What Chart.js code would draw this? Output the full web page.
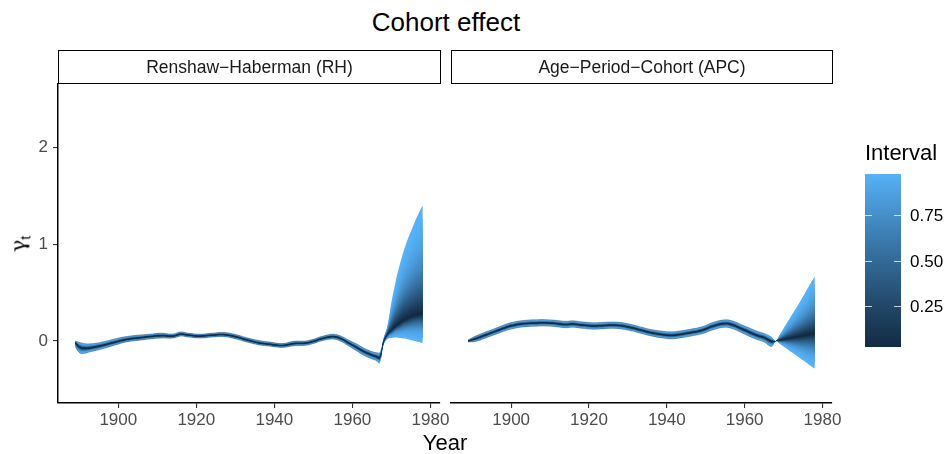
<!DOCTYPE html>
<html><head><meta charset="utf-8">
<script src="https://cdn.jsdelivr.net/npm/chart.js@4.4.1/dist/chart.umd.min.js"></script>
<style>
html,body{margin:0;padding:0;background:#fff;}
#wrap{position:relative;width:950px;height:454px;overflow:hidden;font-family:"Liberation Sans",Arial,sans-serif;background:#fff;}
canvas{position:absolute;top:0;}
.t{position:absolute;transform:translate(-50%,-50%);white-space:nowrap;color:#000;line-height:1;}
.strip{position:absolute;top:50px;height:34px;box-sizing:border-box;border:1.7px solid #000;display:flex;align-items:center;justify-content:center;font-size:17.5px;color:#1a1a1a;}
.lab{position:absolute;transform:translate(0,-50%);font-size:17px;line-height:1;color:#000;}
</style></head><body>
<div id="wrap">
  <div class="t" style="left:446px;top:22px;font-size:26px;">Cohort effect</div>
  <canvas id="c1" width="460" height="454" style="left:0"></canvas>
  <canvas id="c2" width="510" height="454" style="left:440px"></canvas>
  <div class="strip" style="left:58px;width:383px;">Renshaw−Haberman (RH)</div>
  <div class="strip" style="left:451px;width:382px;">Age−Period−Cohort (APC)</div>
  <div class="t" style="left:445px;top:443px;font-size:22px;">Year</div>
  <div class="t" style="left:20px;top:244px;font-size:21px;transform:translate(-50%,-50%) rotate(-90deg);"><span style="font-family:'DejaVu Serif',serif;">γ</span><sub style="font-size:14px;">t</sub></div>
  <div class="t" style="left:901px;top:153px;font-size:22px;">Interval</div>
  <canvas id="cb" width="36" height="173" style="left:865px;top:174px;"></canvas>
  <div id="legLabels"></div>
</div>
<script>
// ---------------- data ----------------
const rhYears = [1889,1890,1891,1893,1896,1899,1902,1905,1908,1911,1914,1916,1918,1921,1924,1927,1930,1933,1936,1939,1942,1945,1948,1950,1952,1955,1957,1959,1961,1963,1965,1966,1967,1968,1969,1970,1971,1972,1973,1974,1975,1976,1977,1978];
const rhMedian = [-0.02,-0.06,-0.075,-0.07,-0.045,-0.015,0.015,0.03,0.045,0.055,0.05,0.07,0.06,0.05,0.06,0.065,0.045,0.01,-0.02,-0.035,-0.047,-0.027,-0.022,-0.005,0.022,0.045,0.025,-0.02,-0.065,-0.11,-0.145,-0.16,-0.17,-0.01,0.07,0.11,0.15,0.18,0.21,0.23,0.25,0.265,0.275,0.28];
const rhLower = [-0.06,-0.12,-0.13,-0.11,-0.08,-0.045,-0.01,0.005,0.02,0.03,0.03,0.05,0.04,0.03,0.04,0.045,0.022,-0.012,-0.04,-0.055,-0.067,-0.05,-0.045,-0.027,0.0,0.02,-0.003,-0.05,-0.1,-0.15,-0.185,-0.2,-0.225,-0.04,0.02,0.03,0.035,0.03,0.025,0.02,0.01,0.0,-0.01,-0.02];
const rhUpper = [0.0,-0.015,-0.025,-0.03,-0.01,0.02,0.045,0.06,0.07,0.08,0.072,0.093,0.08,0.07,0.08,0.088,0.068,0.033,0.005,-0.012,-0.027,-0.003,0.0,0.018,0.045,0.07,0.052,0.01,-0.03,-0.075,-0.11,-0.12,-0.12,0.03,0.16,0.40,0.60,0.77,0.91,1.03,1.13,1.23,1.32,1.40];

const apcYears = [1889,1891,1893,1895,1897,1899,1901,1903,1906,1909,1912,1914,1916,1918,1921,1924,1927,1930,1933,1936,1939,1941,1943,1946,1949,1952,1955,1957,1959,1961,1963,1965,1967,1968,1969,1970,1971,1972,1973,1974,1975,1976,1977,1978];
const apcMedian = [0.0,0.025,0.055,0.085,0.115,0.145,0.165,0.178,0.185,0.187,0.178,0.17,0.175,0.165,0.155,0.16,0.162,0.145,0.115,0.085,0.065,0.058,0.065,0.085,0.11,0.155,0.18,0.165,0.13,0.095,0.06,0.035,-0.005,0.0,0.008,0.016,0.024,0.032,0.04,0.047,0.055,0.062,0.07,0.078];
const apcLower = [-0.012,-0.003,0.024,0.054,0.083,0.112,0.132,0.145,0.152,0.154,0.145,0.137,0.142,0.132,0.122,0.127,0.129,0.112,0.082,0.052,0.03,0.022,0.029,0.049,0.074,0.117,0.142,0.125,0.089,0.052,0.017,-0.01,-0.058,0.0,-0.028,-0.057,-0.085,-0.115,-0.143,-0.17,-0.2,-0.228,-0.258,-0.285];
const apcUpper = [0.012,0.053,0.086,0.116,0.147,0.178,0.198,0.211,0.218,0.22,0.211,0.203,0.208,0.198,0.188,0.193,0.195,0.178,0.148,0.118,0.1,0.094,0.101,0.121,0.146,0.193,0.218,0.205,0.171,0.138,0.103,0.078,0.038,0.0,0.065,0.13,0.195,0.26,0.325,0.39,0.46,0.53,0.6,0.665];

const lastObservedYear = 1967;
const xTicks = [1900,1920,1940,1960,1980];
const yTicks = [0,1,2];
const intervalRange = [0.02,0.98];
const legendTicks = [0.25,0.50,0.75];
const legendTickLabels = ["0.25","0.50","0.75"];

// ---------------- styling helpers ----------------
const FONT = '"Liberation Sans", Arial, sans-serif';
const LOW = '#132B43', HIGH = '#56B1F7';
const XMIN = 1884.55, XMAX = 1982.45, YMIN = -0.641, YMAX = 2.655;

function hex2rgb(h){return [parseInt(h.slice(1,3),16),parseInt(h.slice(3,5),16),parseInt(h.slice(5,7),16)];}
function s2l(c){c/=255;return c<=0.04045?c/12.92:Math.pow((c+0.055)/1.055,2.4);}
function l2s(c){const v=c<=0.0031308?12.92*c:1.055*Math.pow(c,1/2.4)-0.055;return Math.round(Math.max(0,Math.min(1,v))*255);}
const XN=0.95047,YN=1,ZN=1.08883;
function fLab(t){return t>0.008856?Math.cbrt(t):7.787*t+16/116;}
function fInv(t){const t3=t*t*t;return t3>0.008856?t3:(t-16/116)/7.787;}
function rgb2lab(rgb){const R=s2l(rgb[0]),G=s2l(rgb[1]),B=s2l(rgb[2]);
  const X=(0.4124*R+0.3576*G+0.1805*B)/XN,Y=(0.2126*R+0.7152*G+0.0722*B)/YN,Z=(0.0193*R+0.1192*G+0.9505*B)/ZN;
  const fx=fLab(X),fy=fLab(Y),fz=fLab(Z);return [116*fy-16,500*(fx-fy),200*(fy-fz)];}
function lab2rgb(l){const fy=(l[0]+16)/116,fx=fy+l[1]/500,fz=fy-l[2]/200;
  const X=fInv(fx)*XN,Y=fInv(fy)*YN,Z=fInv(fz)*ZN;
  const R=3.2406*X-1.5372*Y-0.4986*Z,G=-0.9689*X+1.8758*Y+0.0415*Z,B=0.0557*X-0.2040*Y+1.0570*Z;
  return [l2s(R),l2s(G),l2s(B)];}
const LAB_LO=rgb2lab(hex2rgb(LOW)),LAB_HI=rgb2lab(hex2rgb(HIGH));
function colourAt(p){let t=(p-intervalRange[0])/(intervalRange[1]-intervalRange[0]);t=Math.max(0,Math.min(1,t));
  const l=[0,1,2].map(i=>LAB_LO[i]+(LAB_HI[i]-LAB_LO[i])*t);const c=lab2rgb(l);return `rgb(${c[0]},${c[1]},${c[2]})`;}

function qnorm(p){
 const a=[-3.969683028665376e+01,2.209460984245205e+02,-2.759285104469687e+02,1.383577518672690e+02,-3.066479806614716e+01,2.506628277459239e+00];
 const b=[-5.447609879822406e+01,1.615858368580409e+02,-1.556989798598866e+02,6.680131188771972e+01,-1.328068155288572e+01];
 const c=[-7.784894002430293e-03,-3.223964580411365e-01,-2.400758277161838e+00,-2.549732539343734e+00,4.374664141464968e+00,2.938163982698783e+00];
 const d=[7.784695709041462e-03,3.224671290700398e-01,2.445134137142996e+00,3.754408661907416e+00];
 const pl=0.02425,ph=1-pl;let q,r;
 if(p<pl){q=Math.sqrt(-2*Math.log(p));return (((((c[0]*q+c[1])*q+c[2])*q+c[3])*q+c[4])*q+c[5])/((((d[0]*q+d[1])*q+d[2])*q+d[3])*q+1);}
 if(p<=ph){q=p-0.5;r=q*q;return (((((a[0]*r+a[1])*r+a[2])*r+a[3])*r+a[4])*r+a[5])*q/(((((b[0]*r+b[1])*r+b[2])*r+b[3])*r+b[4])*r+1);}
 q=Math.sqrt(-2*Math.log(1-p));return -(((((c[0]*q+c[1])*q+c[2])*q+c[3])*q+c[4])*q+c[5])/((((d[0]*q+d[1])*q+d[2])*q+d[3])*q+1);
}
const Z_OUT = qnorm((1+intervalRange[1])/2);

// same spline as Chart.js (tension 0.4)
const TENSION = 0.4;
function cps(pts){
  const out=[];
  for(let i=0;i<pts.length;i++){
    const prev=pts[Math.max(0,i-1)],cur=pts[i],next=pts[Math.min(pts.length-1,i+1)];
    const d01=Math.hypot(cur.x-prev.x,cur.y-prev.y),d12=Math.hypot(next.x-cur.x,next.y-cur.y);
    let s01=d01/(d01+d12),s12=d12/(d01+d12);if(isNaN(s01))s01=0;if(isNaN(s12))s12=0;
    const fa=TENSION*s01,fb=TENSION*s12;
    out.push({px:cur.x-fa*(next.x-prev.x),py:cur.y-fa*(next.y-prev.y),nx:cur.x+fb*(next.x-prev.x),ny:cur.y+fb*(next.y-prev.y)});
  }
  return out;
}
function trace(ctx,pts,move){
  const c=cps(pts);
  if(move)ctx.moveTo(pts[0].x,pts[0].y);else ctx.lineTo(pts[0].x,pts[0].y);
  for(let i=0;i<pts.length-1;i++)ctx.bezierCurveTo(c[i].nx,c[i].ny,c[i+1].px,c[i+1].py,pts[i+1].x,pts[i+1].y);
}

const fanPlugin = {
  id:'fan',
  beforeDatasetsDraw(chart){
    const {ctx,chartArea:a,scales:{x,y}}=chart;
    const med=chart.data.datasets[2].data, lo=chart.data.datasets[1].data, hi=chart.data.datasets[0].data;
    ctx.save();ctx.beginPath();ctx.rect(a.left,a.top,a.right-a.left,a.bottom-a.top);ctx.clip();
    const nLev=48;
    for(let k=nLev;k>=0;k--){
      const p=intervalRange[0]+(intervalRange[1]-intervalRange[0])*k/nLev;
      const f=qnorm((1+p)/2)/Z_OUT;
      const up=[],dn=[];
      for(let i=0;i<med.length;i++){
        const m=med[i].y, xp=x.getPixelForValue(med[i].x);
        up.push({x:xp,y:y.getPixelForValue(m+f*(hi[i].y-m))});
        dn.push({x:xp,y:y.getPixelForValue(m-f*(m-lo[i].y))});
      }
      dn.reverse();
      ctx.beginPath();trace(ctx,up,true);trace(ctx,dn,false);ctx.closePath();
      ctx.fillStyle=colourAt(p);ctx.fill();
    }
    ctx.restore();
  }
};

function pts(years,arr){return years.map((yr,i)=>({x:yr,y:arr[i]}));}
const OUTLINE='rgba(19,43,67,0.55)';
const CENTRE='rgba(19,43,67,0.75)';
function histSeg(c){return c.p1.parsed.x<=lastObservedYear?OUTLINE:'rgba(0,0,0,0)';}
function histSegC(c){return c.p1.parsed.x<=lastObservedYear?CENTRE:'rgba(0,0,0,0)';}

function makeChart(id,years,med,lo,hi,showY,padL,padR){
  return new Chart(document.getElementById(id),{
    type:'line',
    data:{datasets:[
      {label:'upper',data:pts(years,hi),borderWidth:0.7,pointRadius:0,tension:TENSION,fill:false,borderColor:OUTLINE,segment:{borderColor:histSeg}},
      {label:'lower',data:pts(years,lo),borderWidth:0.7,pointRadius:0,tension:TENSION,fill:false,borderColor:OUTLINE,segment:{borderColor:histSeg}},
      {label:'median',data:pts(years,med),borderWidth:0.9,pointRadius:0,tension:TENSION,fill:false,borderColor:CENTRE,segment:{borderColor:histSegC}}
    ]},
    options:{
      responsive:false,animation:false,devicePixelRatio:1,
      layout:{padding:{left:padL,right:padR,top:84,bottom:0}},
      plugins:{legend:{display:false},tooltip:{enabled:false},fan:{}},
      scales:{
        x:{type:'linear',min:XMIN,max:XMAX,
          afterBuildTicks:s=>{s.ticks=xTicks.map(v=>({value:v}));},
          afterFit:s=>{s.height=51;},
          grid:{display:true,drawOnChartArea:false,drawTicks:true,tickLength:5,color:'#333333',lineWidth:1.1},
          border:{display:true,color:'#000',width:1.5},
          ticks:{color:'#4d4d4d',font:{size:17,family:FONT},padding:2,maxRotation:0,autoSkip:false,callback:v=>String(v)}},
        y:{display:showY,min:YMIN,max:YMAX,
          afterBuildTicks:s=>{s.ticks=yTicks.map(v=>({value:v}));},
          afterFit:s=>{s.width=showY?58:0;},
          grid:{display:true,drawOnChartArea:false,drawTicks:true,tickLength:5,color:'#333333',lineWidth:1.1},
          border:{display:true,color:'#000',width:1.5},
          ticks:{color:'#4d4d4d',font:{size:17,family:FONT},padding:5,callback:v=>String(v)}}
      }
    },
    plugins:[fanPlugin]
  });
}
makeChart('c1',rhYears,rhMedian,rhLower,rhUpper,true,0,20);
makeChart('c2',apcYears,apcMedian,apcLower,apcUpper,false,11,118);

// colour bar legend
(function(){
  const cv=document.getElementById('cb'),ctx=cv.getContext('2d');const H=cv.height,W=cv.width;
  for(let r=0;r<H;r++){const t=1-(r+0.5)/H;const p=intervalRange[0]+t*(intervalRange[1]-intervalRange[0]);
    ctx.fillStyle=colourAt(p);ctx.fillRect(0,r,W,1);}
  ctx.strokeStyle='rgba(255,255,255,0.75)';ctx.lineWidth=1;
  const box=document.getElementById('legLabels');
  legendTicks.forEach((v,i)=>{
    const yy=H-(v-intervalRange[0])/(intervalRange[1]-intervalRange[0])*H;
    const yr=Math.round(yy)+0.5;
    ctx.beginPath();ctx.moveTo(0,yr);ctx.lineTo(7,yr);ctx.moveTo(W-7,yr);ctx.lineTo(W,yr);ctx.stroke();
    const d=document.createElement('div');d.className='lab';d.style.left='910px';d.style.top=(174+yy)+'px';d.textContent=legendTickLabels[i];box.appendChild(d);
  });
})();
</script>
</body></html>
